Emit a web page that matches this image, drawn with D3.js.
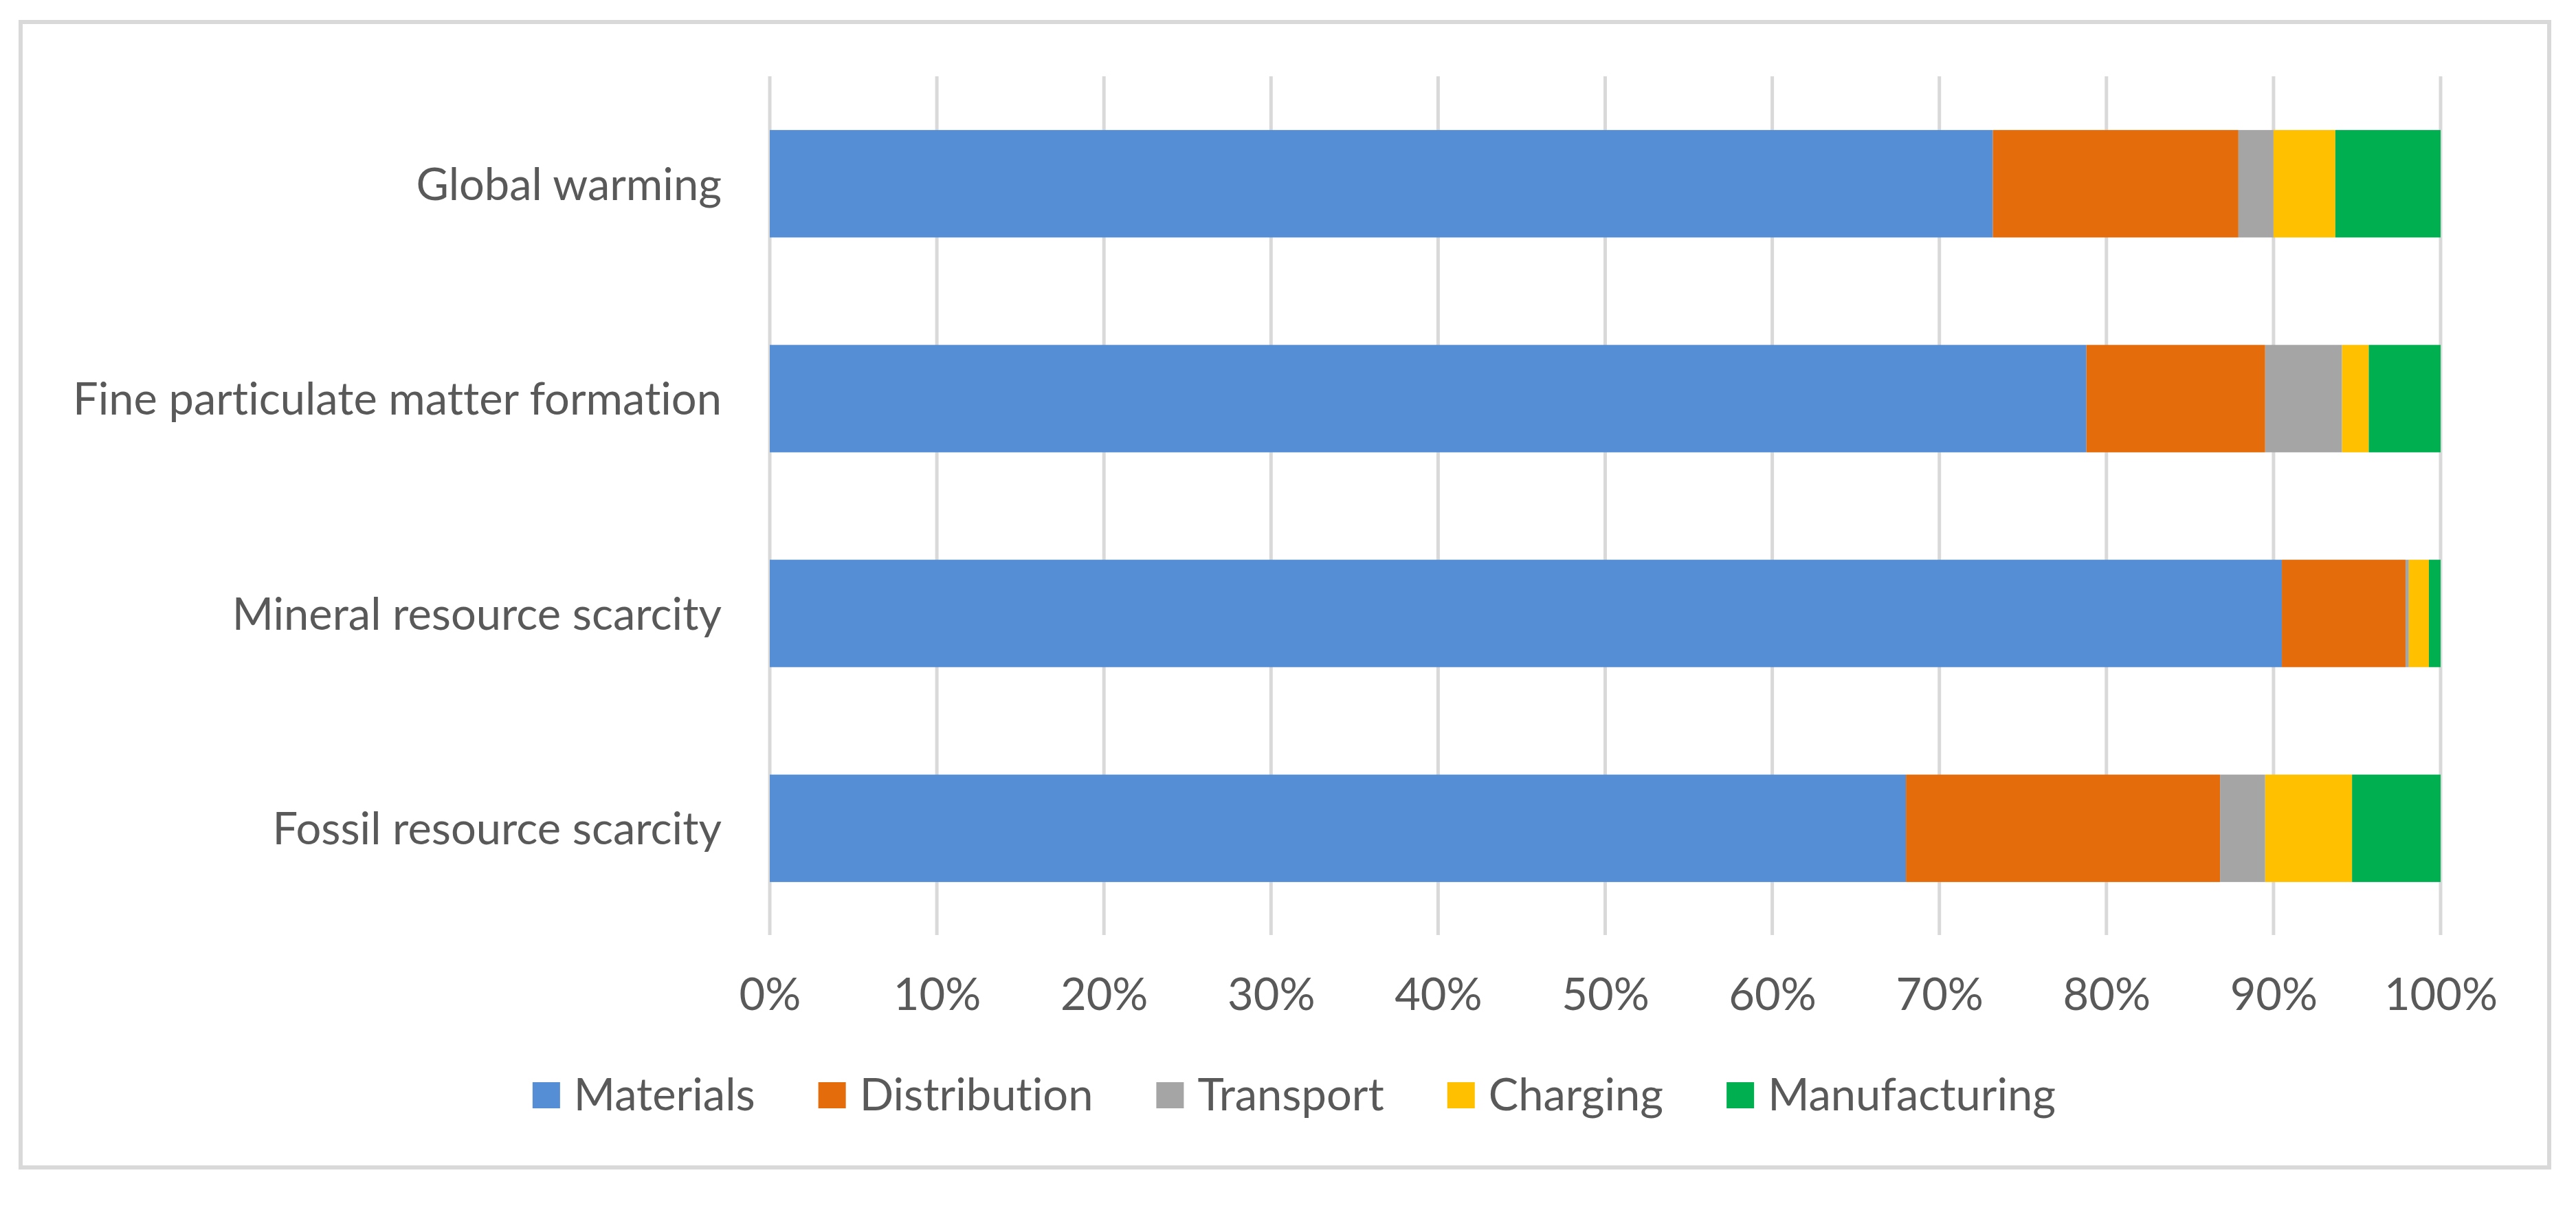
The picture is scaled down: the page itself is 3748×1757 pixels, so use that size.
<!DOCTYPE html>
<html lang="en">
<head>
  <meta charset="UTF-8" />
  <title>stacked bar</title>
  <style>
    body { margin: 0; background: #fff; }
    text { font-family: Lato, "Open Sans", sans-serif; fill: #595959; font-variant-ligatures: none; }
  </style>
</head>
<body>
  <div id="container"></div>
  <script src="https://cdn.jsdelivr.net/npm/d3@7"></script>
  <script>
    // values in percent
    const categories = ["Global warming", "Fine particulate matter formation", "Mineral resource scarcity", "Fossil resource scarcity"];
    const seriesNames = ["Materials", "Distribution", "Transport", "Charging", "Manufacturing"];
    const materials = [73.2, 78.8, 90.5, 68.0];
    const distribution = [14.7, 10.7, 7.4, 18.8];
    const transport = [2.1, 4.6, 0.2, 2.7];
    const charging = [3.7, 1.6, 1.2, 5.2];
    const manufacturing = [6.3, 4.3, 0.7, 5.3];
    const ticks = [0, 10, 20, 30, 40, 50, 60, 70, 80, 90, 100];
    const colors = ["#558ed5", "#e46c0a", "#a5a5a5", "#ffc000", "#00b050"];

    const W = 3748, H = 1757;
    const fontSize = 65;

    const rows = categories.map((c, i) => ({
      category: c,
      Materials: materials[i],
      Distribution: distribution[i],
      Transport: transport[i],
      Charging: charging[i],
      Manufacturing: manufacturing[i]
    }));

    const svg = d3.select("#container").append("svg")
      .attr("width", W).attr("height", H);

    // outer frame
    svg.append("rect")
      .attr("x", 30).attr("y", 32)
      .attr("width", 3679).attr("height", 1666)
      .attr("fill", "#fff")
      .attr("stroke", "#d9d9d9")
      .attr("stroke-width", 6);

    const x = d3.scaleLinear().domain([0, 100]).range([1120, 3551]);
    const y = d3.scaleBand().domain(categories).range([111, 1361])
      .paddingInner(0.5).paddingOuter(0.25);

    // gridlines
    svg.append("g")
      .selectAll("line")
      .data(ticks)
      .join("line")
      .attr("x1", d => x(d)).attr("x2", d => x(d))
      .attr("y1", 111).attr("y2", 1360)
      .attr("stroke", "#d9d9d9")
      .attr("stroke-width", 5);

    const stacked = d3.stack().keys(seriesNames)(rows);

    svg.append("g")
      .selectAll("g")
      .data(stacked)
      .join("g")
      .attr("fill", (d, i) => colors[i])
      .selectAll("rect")
      .data(d => d)
      .join("rect")
      .attr("x", d => x(d[0]))
      .attr("width", d => x(d[1]) - x(d[0]))
      .attr("y", d => y(d.data.category))
      .attr("height", y.bandwidth());

    // category labels
    const yAxis = svg.append("g")
      .attr("transform", "translate(1120,0)")
      .call(d3.axisLeft(y).tickSize(0).tickPadding(70));
    yAxis.select(".domain").remove();
    yAxis.selectAll("text")
      .attr("fill", "#595959")
      .style("font-size", fontSize + "px")
      .attr("dy", "0.36em");

    // percentage ticks
    const xAxis = svg.append("g")
      .attr("transform", "translate(0,1360)")
      .call(d3.axisBottom(x).tickValues(ticks).tickFormat(d => d + "%").tickSize(0).tickPadding(63));
    xAxis.select(".domain").remove();
    xAxis.selectAll("text")
      .attr("fill", "#595959")
      .style("font-size", fontSize + "px")
      .attr("dy", "0.71em");

    // legend
    const legend = svg.append("g");
    const items = legend.selectAll("g")
      .data(seriesNames)
      .join("g");
    items.append("rect")
      .attr("width", 40).attr("height", 38)
      .attr("y", -41)
      .attr("fill", (d, i) => colors[i]);
    items.append("text")
      .attr("x", 60)
      .style("font-size", fontSize + "px")
      .text(d => d);

    let offset = 0;
    items.each(function () {
      const w = this.querySelector("text").getComputedTextLength();
      d3.select(this).attr("transform", `translate(${offset},1615)`);
      offset += 60 + w + 92;
    });
    const total = offset - 92;
    legend.attr("transform", `translate(${1883 - total / 2},0)`);
  </script>
</body>
</html>
